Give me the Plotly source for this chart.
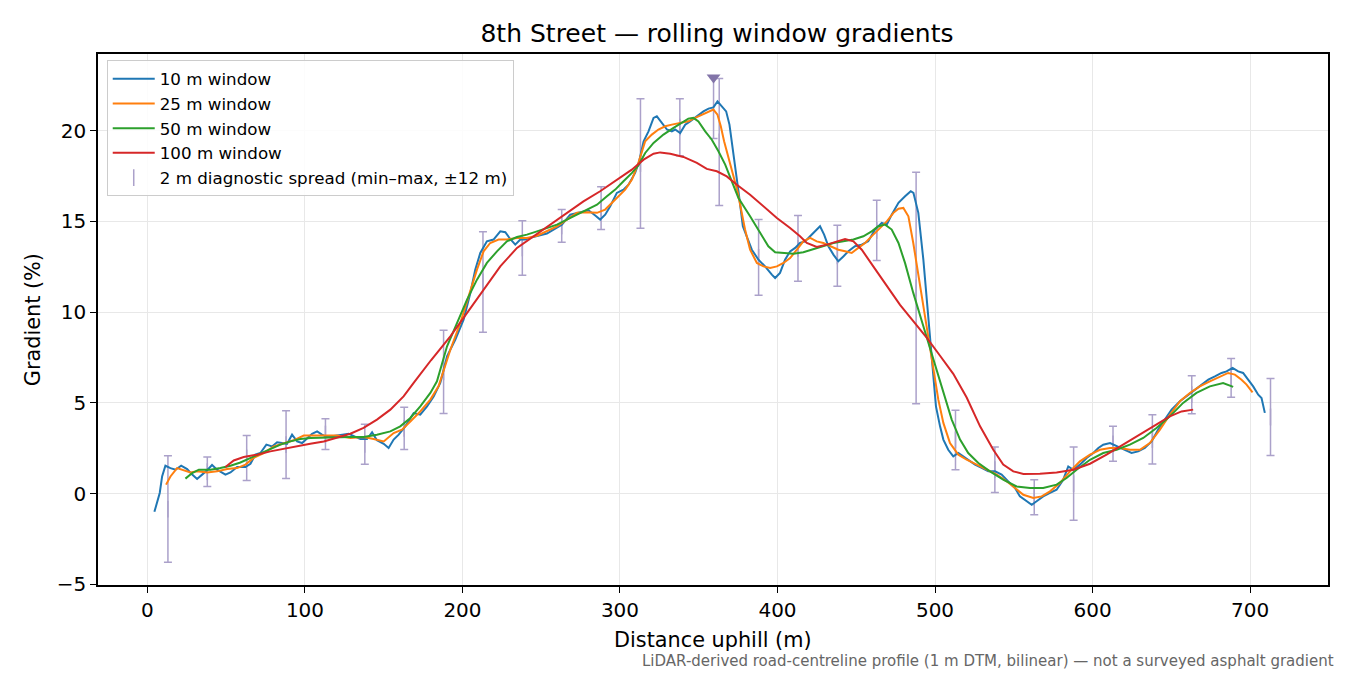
import plotly.graph_objects as go

# rolling window gradients (distance m, gradient %)
dist_10 = [4.4, 7.8, 9.3, 11.4, 14.6, 17.8, 21.4, 25.2, 28.4, 31.5, 34.7, 37.9, 41, 44.2, 49.5, 52.7,
           56.9, 62.2, 65.4, 68.5, 71.7, 75.5, 79.1, 82.3, 85.4, 88.6, 91.8, 95, 98.2, 101.3, 104.5,
           107.7, 110.8, 114, 120.4, 127.8, 135.2, 139.4, 142.6, 145.7, 150, 153.1, 156.3, 159.5,
           163.7, 169, 173.2, 177.5, 181.7, 185.9, 190.2, 195.4, 200.7, 205, 208.1, 211.3, 215.5,
           219.7, 224, 227.2, 230.3, 233.5, 236.7, 239.8, 243, 249.4, 253.6, 257.8, 263.1, 268.4,
           274.7, 280, 284.3, 287.4, 290.6, 293.8, 298, 302.2, 305.4, 309.6, 312, 315, 318.1, 321.3,
           323.4, 326.6, 329.8, 332.9, 335, 338.2, 341.4, 344.5, 348.8, 353, 356.2, 359.3, 361.9,
           364.7, 367.4, 369.5, 371, 373.1, 375.2, 378, 380.5, 383.7, 387.9, 392.1, 396.4, 398.5,
           401.6, 404.8, 408, 411.2, 414.3, 417.5, 420.7, 423.9, 427, 429.6, 432.3, 435.5, 438.6,
           441.8, 445, 449.2, 453.4, 457.6, 461.9, 466.2, 469.4, 472.5, 476.8, 481, 484.6, 486.3,
           489.4, 492.6, 494.7, 496.8, 498.5, 500.6, 503.2, 505.3, 508.4, 511.6, 514.8, 518, 521.1,
           525.4, 529.6, 533.8, 538.1, 542.3, 546.5, 550.8, 553.9, 558.2, 561.4, 564.5, 568.7, 573,
           577.2, 581.4, 584.6, 587.8, 592, 596.3, 600.5, 603.7, 606.8, 611.1, 615.3, 620.6, 624.8,
           629, 633.2, 637.5, 641.7, 645.9, 650.2, 655.5, 659.7, 663.9, 668.1, 673.5, 677.7, 681.9,
           685.1, 688.9, 692.5, 695.6, 698.8, 702, 705.2, 707.3, 709.4]
grad_10 = [-1.0, 0.04, 0.95, 1.54, 1.41, 1.32, 1.54, 1.36, 1.05, 0.81, 1.05, 1.29, 1.58, 1.32, 1.05, 1.17,
           1.47, 1.47, 1.65, 2.15, 2.24, 2.7, 2.6, 2.83, 2.79, 2.74, 3.25, 2.88, 2.79, 3.07, 3.3,
           3.43, 3.25, 3.12, 3.2, 3.3, 3.01, 3.01, 3.38, 2.94, 2.75, 2.52, 2.98, 3.25,
           3.71, 4.44, 4.35, 4.81, 5.36, 6.1, 7.57, 8.48, 9.59, 11.06, 12.34, 13.26, 13.9,
           14.0, 14.45, 14.4, 14.03, 13.72, 14.0, 14.0, 14.09, 14.21, 14.33, 14.55, 14.82, 15.37,
           15.5, 15.61, 15.32, 15.1, 15.37, 15.83, 16.57, 16.75, 17.02, 17.67, 18.25, 19.41, 19.96, 20.7,
           20.79, 20.42, 20.06, 19.96, 20.06, 19.87, 20.33, 20.51, 20.79, 21.06, 21.21, 21.28, 21.61,
           21.34, 21.06, 20.33, 19.41, 18.13, 16.66, 14.73, 14.18, 13.44, 12.89, 12.52, 12.07, 11.88,
           12.16, 12.89, 13.35, 13.54, 13.81, 13.9, 14.18, 14.45, 14.73, 14.27, 13.63, 13.17, 12.8,
           13.07, 13.35, 13.63, 13.72, 13.9, 14.55, 14.91, 14.82, 15.37, 16.02, 16.38, 16.66, 16.57,
           15.47, 12.89, 10.69, 8.67, 6.65, 4.81, 3.71, 2.98, 2.42, 2.06, 2.24, 2.06, 1.87,
           1.6, 1.42, 1.23, 1.23, 1.05, 0.68, 0.31, -0.15, -0.42, -0.61, -0.42, -0.15, 0.04,
           0.22, 0.77, 1.5, 1.32, 1.6, 1.97, 2.24, 2.52, 2.7, 2.79, 2.61, 2.42, 2.24,
           2.33, 2.52, 2.88, 3.53, 4.08, 4.63, 5.09, 5.36, 5.64, 5.91, 6.28, 6.46, 6.65,
           6.74, 6.93, 6.74, 6.65, 6.28, 5.91, 5.45, 5.27, 4.45]

dist_25 = [11.8, 14.6, 18.8, 23, 27.3, 31.5, 37.9, 44.2, 50.6, 56.9, 62.2, 67.4, 73.8, 80.2, 86.5, 92.8,
           99.2, 105.5, 111.9, 120.4, 128.8, 137.2, 143.6, 150, 156.3, 161.6, 166.9, 173.2, 179.6,
           184.8, 192.3, 198.6, 203.9, 209.2, 213.4, 217.6, 222.9, 228.2, 234.6, 240.9, 247.3, 253.6,
           260, 266.3, 272.7, 279, 285.4, 290.6, 294.9, 299.1, 303.3, 307.6, 311.8, 316, 320.2, 324.4,
           328.7, 332.9, 338.2, 343.4, 347.7, 351.9, 356.2, 359.3, 361.9, 364, 366.1, 368.9, 372,
           374.6, 379.4, 382.6, 386.9, 391.1, 395.3, 399.6, 403.8, 408, 412.3, 416.4, 420.7, 424.9,
           429.1, 433.4, 438.6, 442.9, 447.1, 451.3, 455.6, 460.8, 465.1, 469.4, 473.6, 476.8, 479.9,
           483.1, 486.2, 490.5, 494.7, 498.9, 502.1, 505.3, 509.5, 514.8, 520.1, 526.5, 532.8, 539.2,
           545.5, 550.8, 556.1, 562.4, 567.7, 573, 579.3, 585.7, 592, 598.4, 604.7, 611.1, 617.4,
           623.7, 630.1, 636.4, 642.8, 649.1, 655.5, 661.8, 668.1, 674.5, 680.8, 686.1, 690.4, 694.6,
           697.8, 701.6]
grad_25 = [0.5, 0.95, 1.41, 1.29, 1.17, 1.23, 1.17, 1.23, 1.36, 1.41, 1.6, 1.97, 2.24, 2.6, 2.79, 2.94,
           3.2, 3.21, 3.2, 3.2, 3.07, 3.12, 3.01, 2.88, 3.34, 3.53, 3.98, 4.53, 5.18,
           5.91, 7.93, 9.4, 10.87, 12.34, 13.35, 13.81, 14.0, 14.0, 14.09, 14.09, 14.21, 14.45,
           14.73, 15.1, 15.47, 15.5, 15.47, 15.65, 16.02, 16.38, 16.75, 17.3, 18.25, 19.41, 19.78, 20.06,
           20.24, 20.33, 20.42, 20.51, 20.7, 20.88, 21.06, 21.16, 20.88, 20.24, 19.41, 18.5, 17.58,
           16.66, 14.55, 13.44, 12.71, 12.52, 12.43, 12.52, 12.71, 12.98, 13.44, 13.9, 14.09, 13.9,
           13.81, 13.63, 13.44, 13.35, 13.26, 13.54, 13.81, 14.27, 14.64, 15.0, 15.47, 15.7, 15.74,
           15.28, 13.81, 11.42, 9.22, 7.01, 5.18, 3.9, 2.79, 2.15, 1.87, 1.6, 1.32, 1.05,
           0.68, 0.31, -0.06, -0.24, -0.15, 0.13, 0.59, 1.23, 1.78, 2.15, 2.42, 2.52, 2.52,
           2.42, 2.42, 2.79, 3.53, 4.35, 5.09, 5.55, 5.91, 6.19, 6.46, 6.65, 6.56, 6.28,
           6.01, 5.58]

dist_50 = [24.1, 28.4, 32.6, 40, 46.3, 52.7, 59, 65.4, 71.7, 78, 84.4, 90.7, 97.1, 103.4, 111.9, 120.4,
           128.8, 137.2, 145.7, 154.2, 160.5, 166.9, 173.2, 179.6, 183.8, 190.2, 196.5, 202.9, 209.2,
           215.5, 221.9, 228.2, 234.6, 240.9, 247.3, 253.6, 260, 266.3, 272.7, 279, 285.4, 291.7, 297,
           302.2, 307.6, 311.8, 316, 321.3, 327.6, 334, 339.3, 343.4, 346.6, 349.8, 354.1, 358.3,
           362.5, 366.8, 371, 375.2, 382.6, 389, 394.2, 398.5, 403.8, 410.1, 416.4, 422.8, 429.1,
           435.5, 441.8, 448.2, 454.5, 459.8, 464, 468.3, 472.5, 476.8, 481, 486.2, 492.6, 498.9,
           505.3, 510.6, 515.9, 521.1, 527.5, 534.9, 543.3, 551.8, 560.3, 568.7, 577.2, 583.5, 589.9,
           598.4, 606.8, 615.3, 623.7, 632.2, 640.6, 649.1, 657.5, 666, 674.5, 682.9, 689.3]
grad_50 = [0.83, 1.14, 1.32, 1.32, 1.41, 1.54, 1.72, 1.97, 2.2, 2.46, 2.7, 2.88, 3.01, 3.07, 3.1, 3.12,
           3.12, 3.12, 3.25, 3.43, 3.71, 4.17, 4.81, 5.55, 6.19, 8.12, 9.4, 10.69, 11.79,
           12.71, 13.35, 13.9, 14.14, 14.27, 14.45, 14.64, 14.82, 15.1, 15.37, 15.65, 15.92, 16.38, 16.75,
           17.21, 17.67, 18.1, 18.77, 19.32, 19.78, 20.15, 20.42, 20.66, 20.7, 20.51, 19.96, 19.5,
           18.86, 18.13, 17.21, 16.29, 15.28, 14.36, 13.63, 13.3, 13.26, 13.22, 13.3, 13.48, 13.66,
           13.81, 13.9, 14.0, 14.18, 14.45, 14.73, 14.82, 14.55, 13.81, 12.7, 11.06, 9.22, 7.38,
           5.55, 4.08, 2.98, 2.24, 1.69, 1.23, 0.77, 0.4, 0.31, 0.31, 0.5, 0.86, 1.32,
           1.87, 2.24, 2.42, 2.7, 3.07, 3.62, 4.26, 5.0, 5.55, 5.91, 6.1, 5.88]

dist_100 = [49.5, 54.8, 61.1, 69.6, 78, 86.5, 95, 103.4, 111.9, 120.4, 128.8, 137.2, 145.7, 154.2, 162.6,
            169, 180, 192.3, 202.9, 213.4, 224, 234.6, 245.1, 255.7, 266.3, 276.8, 287.4, 298, 307.5,
            315, 321.3, 325.5, 331.9, 340.3, 348.8, 355.1, 361.5, 367.8, 374.2, 382.6, 391.1, 399.6,
            408, 414.3, 418.6, 424.9, 431.3, 437.6, 442.9, 448.2, 453.5, 460.8, 469.4, 477.8, 486.2,
            494.7, 503.2, 511.6, 520.1, 528.6, 537, 543.3, 549.7, 556.1, 566.6, 577.2, 587.8, 598.4,
            608.9, 619.5, 630.1, 640.6, 649.1, 656.5, 663.9]
grad_100 = [1.47, 1.83, 2.02, 2.15, 2.33, 2.48, 2.64, 2.75, 2.87, 3.07, 3.3, 3.62, 4.08, 4.63, 5.36,
            6.1, 7.35, 8.67, 9.96, 11.24, 12.52, 13.54, 14.18, 14.82, 15.47, 16.1, 16.66, 17.3, 17.85,
            18.4, 18.73, 18.8, 18.73, 18.55, 18.22, 17.89, 17.76, 17.48, 17.02, 16.47, 15.83, 15.19,
            14.64, 14.18, 13.81, 13.59, 13.72, 13.9, 14.03, 13.9, 13.44, 12.52, 11.42, 10.4, 9.5,
            8.6, 7.6, 6.6, 5.3, 3.71, 2.42, 1.6, 1.23, 1.09, 1.1, 1.17, 1.32, 1.65,
            2.15, 2.7, 3.25, 3.8, 4.26, 4.53, 4.63]

# 2 m diagnostic spread (min / max within +-12 m)
spread_x = [13, 38, 63, 88, 113, 138, 163, 188, 213, 238, 263, 288, 313, 338, 363, 388, 413, 438, 463,
            488, 513, 538, 563, 588, 613, 638, 663, 688, 713]
spread_min = [-3.78, 0.40, 0.73, 0.84, 2.44, 1.62, 2.44, 4.42, 8.89, 12.03, 13.85, 14.55, 14.62, 18.62,
              15.88, 10.93, 11.7, 11.42, 12.84, 4.96, 1.32, 0.07, -1.16, -1.47, 1.78, 1.63, 4.41, 5.31, 2.11]
spread_max = [2.09, 2.02, 3.2, 4.57, 4.13, 3.82, 4.76, 9.0, 14.43, 15.04, 15.65, 16.91, 21.76, 21.76,
              22.87, 15.1, 15.33, 14.78, 16.16, 17.7, 4.59, 2.57, 0.77, 2.57, 3.71, 4.35, 6.5, 7.44, 6.34]

# steepest point marker
peak_x = [359.4]
peak_top = [22.92]
peak_low = [19.56]

series = [
    ("10 m window", dist_10, grad_10, "#1f77b4"),
    ("25 m window", dist_25, grad_25, "#ff7f0e"),
    ("50 m window", dist_50, grad_50, "#2ca02c"),
    ("100 m window", dist_100, grad_100, "#d62728"),
]

FONT = "DejaVu Sans"
BAR = "rgb(171,161,202)"

fig = go.Figure()

spread_mid = [(a + b) / 2 for a, b in zip(spread_min, spread_max)]
spread_half = [(b - a) / 2 for a, b in zip(spread_min, spread_max)]
fig.add_trace(go.Scatter(
    x=spread_x, y=spread_mid, mode="markers",
    name="2 m diagnostic spread (min\u2013max, \u00b112 m)",
    marker=dict(symbol="line-ns-open", size=12, color=BAR, line=dict(color=BAR, width=1.5)),
    error_y=dict(type="data", array=spread_half, symmetric=True, color=BAR, thickness=1.5, width=4),
    legendgroup="spread", legendrank=5,
))

fig.add_trace(go.Scatter(
    x=peak_x, y=peak_top, mode="markers", showlegend=False,
    marker=dict(symbol="triangle-down", size=12, color="rgb(130,116,168)"),
    error_y=dict(type="data", array=[0], arrayminus=[t - l for t, l in zip(peak_top, peak_low)],
                 symmetric=False, color=BAR, thickness=1.5, width=4),
))

for i, (name, xs, ys, col) in enumerate(series):
    fig.add_trace(go.Scatter(
        x=xs, y=ys, mode="lines", name=name,
        line=dict(color=col, width=2),
        legendgroup=name, legendrank=i + 1,
    ))

axis_common = dict(
    showline=True, linecolor="black", linewidth=1.5, mirror=True,
    ticks="outside", ticklen=6, tickwidth=1.3, tickcolor="black",
    showgrid=True, gridcolor="#e8e8e8", gridwidth=1, zeroline=False,
    tickfont=dict(family=FONT, size=20, color="black"),
)

fig.update_xaxes(range=[-31.4, 749.5], dtick=100, tick0=0, **axis_common)
fig.update_yaxes(range=[-5.03, 24.22], dtick=5, tick0=0, **axis_common)

# the page body adds an 8 px offset, so the figure is drawn 8 px smaller
fig.update_layout(
    width=1342, height=667,
    margin=dict(l=90, r=22, t=46, b=90),
    plot_bgcolor="white", paper_bgcolor="white",
    font=dict(family=FONT, color="black"),
    title=dict(text="8th Street \u2014 rolling window gradients", x=0.5283, xanchor="center",
               y=0.9625, yanchor="middle", font=dict(family=FONT, size=25, color="black")),
    legend=dict(
        x=0.0071, y=0.988, xanchor="left", yanchor="top",
        bgcolor="rgba(255,255,255,0.85)", bordercolor="#cccccc", borderwidth=1,
        font=dict(family=FONT, size=16.7, color="black"),
        traceorder="grouped", tracegroupgap=0, itemwidth=42,
    ),
    showlegend=True,
    annotations=[
        dict(text="Distance uphill (m)", xref="paper", yref="paper", x=0.5, y=-0.1036,
             xanchor="center", yanchor="middle", showarrow=False,
             font=dict(family=FONT, size=20.8, color="black")),
        dict(text="Gradient (%)", xref="paper", yref="paper", x=-0.0531, y=0.5,
             xanchor="center", yanchor="middle", textangle=-90, showarrow=False,
             font=dict(family=FONT, size=20.8, color="black")),
        dict(text="LiDAR-derived road-centreline profile (1 m DTM, bilinear) \u2014 not a surveyed asphalt gradient",
             xref="paper", yref="paper", x=1.0065, y=-0.143, xanchor="right", yanchor="middle",
             showarrow=False, font=dict(family=FONT, size=15, color="#666666")),
    ],
)

fig.write_html("out.html")
